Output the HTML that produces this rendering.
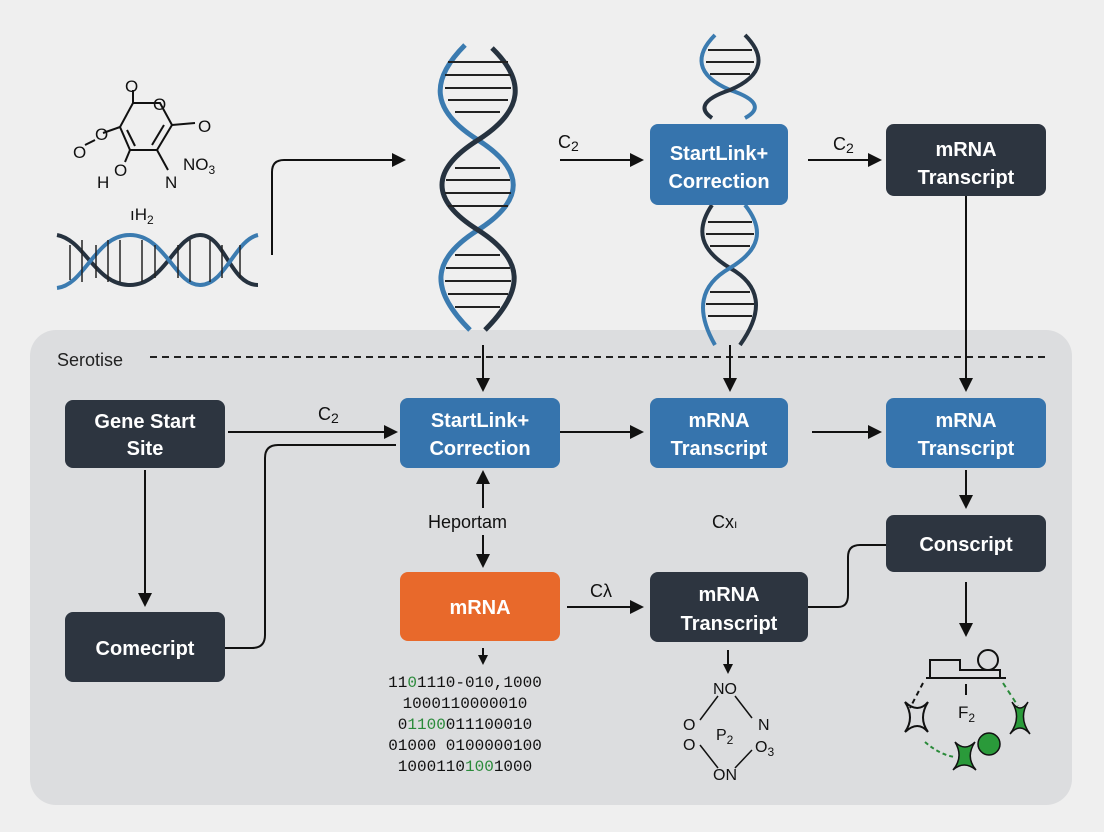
<!DOCTYPE html>
<html><head><meta charset="utf-8"><style>
html,body{margin:0;padding:0;background:#efefef;}
svg{display:block;font-family:"Liberation Sans",sans-serif;}
.bx{font-family:"Liberation Sans",sans-serif;font-weight:bold;font-size:20px;fill:#fff;text-anchor:middle;}
.lb{font-size:18px;fill:#111;}
.mono{font-family:"Liberation Mono",monospace;font-size:16px;fill:#111;}
</style></head><body>
<svg width="1104" height="832" viewBox="0 0 1104 832">
<defs>
<marker id="a" markerWidth="10" markerHeight="10" refX="8" refY="5" orient="auto" markerUnits="userSpaceOnUse"><path d="M0,0 L10,5 L0,10 z" fill="#111"/></marker>
<marker id="as" markerWidth="14" markerHeight="14" refX="12" refY="7" orient="auto" markerUnits="userSpaceOnUse"><path d="M0,0 L14,7 L0,14 z" fill="#111"/></marker>
</defs>
<rect width="1104" height="832" fill="#efefef"/>
<rect x="30" y="330" width="1042" height="475" rx="26" fill="#dcdddf"/>
<text x="57" y="366" font-size="18" fill="#222">Serotise</text>
<line x1="150" y1="357" x2="1045" y2="357" stroke="#222" stroke-width="2" stroke-dasharray="7,5"/>

<!-- vertical DNA -->
<g stroke-width="5" fill="none">
<path d="M465,45 C430,80 430,110 478,140 C525,170 525,200 478,230 C430,260 430,290 470,330" stroke="#3b7bb0"/>
<path d="M492,48 C525,80 525,110 478,140 C430,170 430,200 478,230 C525,260 525,290 485,330" stroke="#26323f"/>
</g>
<g stroke="#222" stroke-width="2">
<line x1="448" y1="62" x2="508" y2="62"/><line x1="445" y1="75" x2="511" y2="75"/><line x1="445" y1="88" x2="511" y2="88"/><line x1="448" y1="100" x2="508" y2="100"/><line x1="455" y1="112" x2="500" y2="112"/>
<line x1="455" y1="168" x2="500" y2="168"/><line x1="446" y1="180" x2="510" y2="180"/><line x1="445" y1="193" x2="511" y2="193"/><line x1="448" y1="206" x2="508" y2="206"/>
<line x1="455" y1="255" x2="500" y2="255"/><line x1="446" y1="268" x2="510" y2="268"/><line x1="445" y1="281" x2="511" y2="281"/><line x1="448" y1="294" x2="508" y2="294"/><line x1="455" y1="307" x2="500" y2="307"/>
</g>
<!-- top-right DNA -->
<g stroke-width="4" fill="none">
<path d="M715,35 C695,55 695,75 730,90 C760,100 760,110 745,118" stroke="#3b7bb0"/>
<path d="M745,35 C765,55 765,75 730,90 C700,100 700,110 712,118" stroke="#26323f"/>
<path d="M712,205 C695,230 700,250 730,268 C760,285 765,310 740,345" stroke="#26323f"/>
<path d="M745,205 C765,230 760,250 730,268 C700,285 695,310 715,345" stroke="#3b7bb0"/>
</g>
<g stroke="#222" stroke-width="2">
<line x1="708" y1="50" x2="752" y2="50"/><line x1="706" y1="62" x2="754" y2="62"/><line x1="710" y1="74" x2="750" y2="74"/>
<line x1="708" y1="222" x2="752" y2="222"/><line x1="706" y1="234" x2="754" y2="234"/><line x1="710" y1="246" x2="750" y2="246"/>
<line x1="710" y1="292" x2="750" y2="292"/><line x1="706" y1="304" x2="754" y2="304"/><line x1="708" y1="316" x2="752" y2="316"/>
</g>
<!-- horizontal DNA -->
<g stroke-width="4" fill="none">
<path d="M57,235 C85,240 95,285 130,285 C165,285 175,235 200,235 C225,235 230,285 258,285" stroke="#26323f"/>
<path d="M57,288 C85,285 95,235 130,235 C165,235 175,285 200,285 C225,285 235,240 258,235" stroke="#3b7bb0"/>
</g>
<g stroke="#222" stroke-width="1.5">
<line x1="70" y1="245" x2="70" y2="280"/><line x1="82" y1="240" x2="82" y2="282"/><line x1="96" y1="245" x2="96" y2="278"/><line x1="108" y1="240" x2="108" y2="282"/><line x1="120" y1="240" x2="120" y2="282"/><line x1="142" y1="240" x2="142" y2="282"/><line x1="155" y1="245" x2="155" y2="278"/>
<line x1="178" y1="245" x2="178" y2="278"/><line x1="190" y1="240" x2="190" y2="282"/><line x1="210" y1="240" x2="210" y2="282"/><line x1="222" y1="245" x2="222" y2="278"/><line x1="240" y1="245" x2="240" y2="278"/>
</g>
<!-- molecule -->
<g stroke="#111" stroke-width="2" fill="none">
<path d="M133,103 L160,103 L172,125 L157,150 L130,150 L120,127 z"/>
<line x1="133" y1="103" x2="133" y2="90"/><line x1="172" y1="125" x2="195" y2="123"/>
<line x1="120" y1="127" x2="103" y2="133"/><line x1="95" y1="140" x2="85" y2="145"/>
<line x1="130" y1="150" x2="125" y2="162"/><line x1="157" y1="150" x2="168" y2="170"/>
<line x1="164" y1="125" x2="152" y2="145"/><line x1="127" y1="130" x2="135" y2="146"/>
</g>
<g font-size="17" fill="#111">
<text x="125" y="92">O</text><text x="153" y="110">O</text><text x="198" y="132">O</text><text x="95" y="140">O</text><text x="73" y="158">O</text>
<text x="114" y="176">O</text><text x="97" y="188">H</text><text x="165" y="188">N</text><text x="183" y="170">NO<tspan font-size="12" dy="4">3</tspan></text>
<text x="130" y="220">ıH<tspan font-size="12" dy="4">2</tspan></text>
</g>

<!-- boxes -->
<rect x="650" y="124" width="138" height="81" rx="8" fill="#3674ad"/>
<text class="bx" x="719" y="160">StartLink+</text><text class="bx" x="719" y="188">Correction</text>
<rect x="886" y="124" width="160" height="72" rx="8" fill="#2d3540"/>
<text class="bx" x="966" y="156">mRNA</text><text class="bx" x="966" y="184">Transcript</text>
<rect x="65" y="400" width="160" height="68" rx="8" fill="#2d3540"/>
<text class="bx" x="145" y="428">Gene Start</text><text class="bx" x="145" y="455">Site</text>
<rect x="400" y="398" width="160" height="70" rx="8" fill="#3674ad"/>
<text class="bx" x="480" y="427">StartLink+</text><text class="bx" x="480" y="455">Correction</text>
<rect x="650" y="398" width="138" height="70" rx="8" fill="#3674ad"/>
<text class="bx" x="719" y="427">mRNA</text><text class="bx" x="719" y="455">Transcript</text>
<rect x="886" y="398" width="160" height="70" rx="8" fill="#3674ad"/>
<text class="bx" x="966" y="427">mRNA</text><text class="bx" x="966" y="455">Transcript</text>
<rect x="886" y="515" width="160" height="57" rx="8" fill="#2d3540"/>
<text class="bx" x="966" y="551">Conscript</text>
<rect x="65" y="612" width="160" height="70" rx="8" fill="#2d3540"/>
<text class="bx" x="145" y="655">Comecript</text>
<rect x="400" y="572" width="160" height="69" rx="8" fill="#e8692b"/>
<text class="bx" x="480" y="614">mRNA</text>
<rect x="650" y="572" width="158" height="70" rx="8" fill="#2d3540"/>
<text class="bx" x="729" y="601">mRNA</text><text class="bx" x="729" y="630">Transcript</text>

<!-- connectors -->
<g stroke="#111" stroke-width="2" fill="none">
<path d="M272,255 L272,172 Q272,160 284,160 L404,160" marker-end="url(#as)"/>
<path d="M560,160 L642,160" marker-end="url(#as)"/>
<path d="M808,160 L880,160" marker-end="url(#as)"/>
<path d="M966,196 L966,390" marker-end="url(#as)"/>
<path d="M483,345 L483,390" marker-end="url(#as)"/>
<path d="M730,345 L730,390" marker-end="url(#as)"/>
<path d="M228,432 L396,432" marker-end="url(#as)"/>
<path d="M225,648 L252,648 Q265,648 265,635 L265,458 Q265,445 278,445 L396,445"/>
<path d="M560,432 L642,432" marker-end="url(#as)"/>
<path d="M812,432 L880,432" marker-end="url(#as)"/>
<path d="M145,470 L145,605" marker-end="url(#as)"/>
<path d="M483,508 L483,472" marker-end="url(#as)"/>
<path d="M483,535 L483,566" marker-end="url(#as)"/>
<path d="M966,470 L966,507" marker-end="url(#as)"/>
<path d="M808,607 L838,607 Q848,607 848,595 L848,557 Q848,545 860,545 L886,545"/>
<path d="M567,607 L642,607" marker-end="url(#as)"/>
<path d="M966,582 L966,635" marker-end="url(#as)"/>
<path d="M483,648 L483,663" marker-end="url(#a)"/>
<path d="M728,650 L728,672" marker-end="url(#a)"/>
</g>
<text class="lb" x="558" y="148">C<tspan font-size="14" dy="3">2</tspan></text>
<text class="lb" x="833" y="150">C<tspan font-size="14" dy="3">2</tspan></text>
<text class="lb" x="318" y="420">C<tspan font-size="14" dy="3">2</tspan></text>
<text class="lb" x="428" y="528">Heportam</text>
<text class="lb" x="712" y="528">Cx<tspan font-size="12">ı</tspan></text>
<text class="lb" x="590" y="597">Cλ</text>

<!-- binary -->
<g class="mono" text-anchor="middle">
<text x="465" y="687">11<tspan fill="#2a8a3a">0</tspan>1110-010,1000</text>
<text x="465" y="708">1000110000010</text>
<text x="465" y="729">0<tspan fill="#2a8a3a">1100</tspan>011100010</text>
<text x="465" y="750">01000 0100000100</text>
<text x="465" y="771">1000110<tspan fill="#2a8a3a">100</tspan>1000</text>
</g>
<!-- ring -->
<g stroke="#111" stroke-width="1.5"><line x1="718" y1="696" x2="700" y2="720"/><line x1="735" y1="696" x2="752" y2="718"/><line x1="700" y1="745" x2="718" y2="768"/><line x1="752" y1="750" x2="735" y2="768"/></g>
<g font-size="16" fill="#111"><text x="713" y="694">NO</text><text x="683" y="730">O</text><text x="683" y="750">O</text><text x="716" y="740">P<tspan font-size="12" dy="4">2</tspan></text><text x="758" y="730">N</text><text x="755" y="752">O<tspan font-size="12" dy="4">3</tspan></text><text x="713" y="780">ON</text></g>
<!-- bottom right icon -->
<g stroke="#111" stroke-width="2" fill="none">
<path d="M930,678 L930,660 L960,660 L960,670 L1000,670 L1000,678 z"/>
<circle cx="988" cy="660" r="10"/>
<line x1="926" y1="678" x2="1006" y2="678"/>
<line x1="966" y1="684" x2="966" y2="695"/>
<path d="M923,683 L910,708" stroke-dasharray="5,4"/>
<path d="M1003,683 L1018,706" stroke="#2a8a3a" stroke-dasharray="5,4"/>
<path d="M905,702 Q915,718 905,732 Q918,720 928,732 Q918,718 928,702 Q918,714 905,702z"/>
<path d="M925,742 Q940,755 955,757" stroke="#2a8a3a" stroke-dasharray="4,3"/>
</g>
<path d="M1012,702 Q1022,718 1010,734 Q1020,722 1030,734 Q1018,718 1028,702 Q1020,714 1012,702z" fill="#2a9a3a" stroke="#111" stroke-width="1.5"/>
<path d="M955,742 Q964,757 953,770 Q964,760 976,770 Q965,757 975,742 Q965,752 955,742z" fill="#2a9a3a" stroke="#111" stroke-width="1.5"/>
<circle cx="989" cy="744" r="11" fill="#2a9a3a" stroke="#111" stroke-width="1.5"/>
<text x="958" y="718" font-size="17" fill="#111">F<tspan font-size="12" dy="4">2</tspan></text>
</svg>
</body></html>
